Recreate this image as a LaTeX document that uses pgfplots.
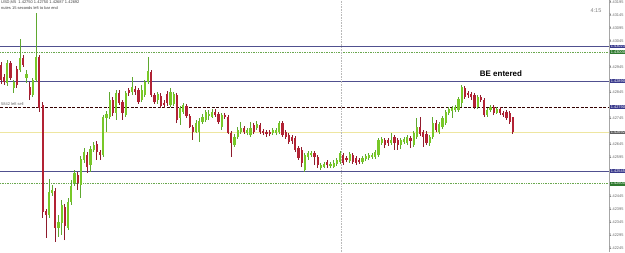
\documentclass[border=0pt]{standalone}
\usepackage{fontspec}
\setmainfont{Liberation Sans}
\usepackage{pgfplots}
\pgfplotsset{compat=1.18}
\usepackage{pgfplotstable}
\definecolor{gbody}{HTML}{78C828}
\definecolor{gwick}{HTML}{5FA830}
\definecolor{rbody}{HTML}{B22234}
\definecolor{rwick}{HTML}{8E1B2C}
\definecolor{lvl}{HTML}{50508F}
\definecolor{lgreen}{HTML}{6AA84F}
\definecolor{bidy}{HTML}{EEE6A0}
\definecolor{boxp}{HTML}{3A3A8C}
\definecolor{boxg}{HTML}{2F7A2F}

% x = bar position (px), o h l c = price in pips above 1.42000
\pgfplotstableread{
x o h l c
6.2 88.2 97.1 87.1 95.9
12.6 86.3 89.4 84.4 88.6
19 93.2 105.2 92.5 97.8
25.4 90.2 93.2 88.2 91.7
31.8 83.6 90.2 82.8 89.4
35 89.4 115.2 88.6 98.2
48.2 37.5 51.3 36.3 46.3
51.2 45.9 49.0 44.8 47.1
57.4 32.5 37.5 29.0 34.8
60.6 34.4 43.2 29.8 41.3
67 32.5 44.0 31.7 42.5
70.2 42.5 50.9 41.3 48.6
73.4 49.8 54.8 48.6 53.6
79.8 49.0 60.2 44.0 59.0
83 58.6 63.2 57.5 61.7
89.4 56.7 64.0 54.0 62.8
92.6 62.5 65.5 61.7 64.4
102.2 60.5 75.9 59.8 75.2
105.4 74.8 77.5 69.4 76.3
108.6 75.2 84.8 74.4 81.7
115 76.7 85.5 74.0 84.4
124.6 75.9 85.2 75.2 84.4
131 84.8 90.5 83.6 86.7
140.6 81.7 87.5 80.9 85.5
143.8 83.6 89.4 82.8 88.6
147 88.6 98.2 87.8 92.8
156.6 81.7 84.8 80.2 84.0
169.4 79.8 86.3 79.0 84.8
172.6 80.2 84.8 79.4 84.0
179 74.8 79.4 72.1 78.6
182.2 77.1 80.5 76.3 79.8
195 69.4 74.0 69.0 72.8
198.2 69.4 74.8 65.5 73.6
201.4 73.2 76.3 72.5 75.2
204.6 74.0 77.8 73.2 77.1
207.8 75.5 77.8 74.0 76.3
211 75.2 78.2 74.8 77.1
220.6 71.3 76.7 70.2 75.9
233.4 64.4 68.6 63.6 67.5
236.6 67.5 71.3 66.7 70.2
239.8 69.4 73.2 68.6 70.9
246.2 69.0 70.9 68.2 70.2
249.4 68.2 73.2 67.5 70.9
255.8 70.9 73.6 70.2 72.5
271.8 69.0 70.9 68.2 70.2
275 69.0 70.9 68.2 70.2
278.2 69.4 73.6 68.6 72.8
303.8 54.8 61.3 54.0 60.5
307 59.8 62.1 58.6 61.3
310.2 60.5 62.1 59.8 61.3
319.8 55.5 57.5 54.8 56.7
323 55.9 57.8 55.5 57.1
329.4 56.3 57.8 55.5 57.1
332.6 55.9 58.6 55.5 57.5
335.8 57.1 59.4 56.3 58.6
339 57.8 62.1 57.1 61.3
348.6 58.2 61.7 57.5 60.9
361.4 57.8 60.2 57.1 59.4
364.6 59.0 60.9 58.2 60.2
367.8 59.4 61.3 58.6 60.5
371 59.8 61.3 59.0 60.5
374.2 59.8 62.5 59.0 61.7
377.4 60.5 67.1 59.8 66.3
380.6 65.2 67.5 64.4 66.7
390.2 65.2 69.0 64.4 66.3
399.8 64.4 67.1 62.8 66.3
403 65.5 67.5 64.8 66.7
406.2 65.2 68.2 64.4 67.5
412.6 64.4 69.8 63.6 69.0
415.8 67.5 74.8 66.7 71.3
428.6 65.2 68.2 64.0 67.5
431.8 67.5 75.2 66.7 72.8
438.2 69.4 73.2 68.6 72.5
441.4 71.3 75.5 70.5 74.8
444.6 72.8 77.8 72.1 77.1
447.8 76.7 79.0 75.9 78.2
451 77.5 79.4 74.8 78.6
454.2 77.8 79.8 77.1 79.0
457.4 77.8 82.8 77.1 82.1
460.6 80.5 87.5 79.0 86.7
476.6 79.0 83.6 78.2 82.8
486.2 75.9 78.6 75.2 77.8
489.4 77.8 79.8 77.1 79.0
495.8 76.7 79.0 76.3 78.2
}\gtab

\pgfplotstableread{
x o h l c
0 95.2 96.3 87.8 89.4
3.1 90.5 91.7 87.5 88.6
9.4 95.9 96.7 89.4 90.2
15.8 93.6 94.8 86.3 87.5
22.2 97.8 99.0 94.4 95.2
28.6 86.7 88.6 81.7 83.6
38.3 98.2 99.0 77.1 78.6
41.6 79.8 80.9 36.3 38.6
44.9 39.0 39.8 28.6 37.5
54.3 46.7 47.8 27.1 32.5
63.8 40.5 41.7 27.8 33.2
76.6 52.8 54.0 47.1 49.8
86.2 60.5 61.7 53.6 55.9
95.8 64.8 65.9 58.6 61.7
99 61.7 62.5 58.6 60.5
111.8 81.7 82.8 75.5 76.7
118.2 84.4 85.5 79.8 80.5
121.4 80.9 81.7 74.0 76.7
127.8 85.5 86.3 83.2 84.4
134.2 85.9 87.1 83.6 84.8
137.4 85.5 86.3 80.2 80.9
150.2 92.5 93.2 82.8 83.6
153.4 83.6 84.4 80.2 80.9
159.8 83.2 84.4 78.6 79.4
163 80.5 81.7 78.6 79.8
166.2 84.0 85.2 79.4 80.5
175.8 83.6 84.4 72.8 74.0
185.4 79.4 80.2 74.8 75.5
188.6 75.5 76.3 70.9 71.3
191.8 71.3 72.1 66.3 69.4
214.2 77.1 78.2 75.2 75.9
217.4 76.3 77.1 72.5 73.2
223.8 75.9 76.7 74.4 75.2
227 75.2 75.9 68.6 69.0
230.2 69.0 69.8 59.8 65.2
243 70.9 71.7 68.6 69.4
252.6 72.1 72.8 68.6 69.4
259 72.1 72.8 68.6 69.4
262.2 69.8 70.5 68.2 69.0
265.4 69.4 70.2 67.5 68.6
268.6 69.4 70.2 67.8 68.6
281.4 72.8 73.6 67.5 68.2
284.6 69.4 70.2 66.7 67.5
287.8 68.2 69.0 64.8 65.5
291 67.5 68.2 64.8 65.9
294.2 67.1 67.8 61.7 62.5
297.4 63.2 64.0 58.6 59.4
300.6 62.5 63.6 55.9 57.5
313.4 61.3 62.1 56.7 59.8
316.6 59.8 60.5 55.5 56.7
326.2 57.8 58.6 55.5 56.7
342.2 60.5 61.3 56.7 57.5
345.4 59.4 60.2 57.8 58.6
351.8 60.5 61.3 57.1 57.8
355 59.4 60.2 56.7 57.5
358.2 58.6 59.4 57.1 57.8
383.8 66.3 67.1 63.2 64.4
387 66.3 67.1 64.0 65.2
393.4 67.5 68.2 62.5 65.2
396.6 66.3 67.1 62.5 64.4
409.4 67.1 67.8 63.2 65.9
419 71.3 75.2 67.8 68.6
422.2 69.4 70.2 63.6 67.5
425.4 68.6 69.8 64.4 65.2
435 72.8 74.0 69.4 70.2
463.8 86.3 87.1 82.1 82.8
467 84.4 85.2 82.5 83.6
470.2 84.0 84.8 81.7 82.8
473.4 83.6 84.4 78.2 79.0
479.8 82.8 83.6 80.9 81.7
483 81.7 82.5 75.2 75.9
492.6 79.0 79.8 75.9 76.7
499 78.2 79.0 75.9 76.7
502.2 76.7 77.5 75.2 75.9
505.4 77.1 77.8 74.0 74.8
508.6 76.7 77.5 72.5 73.2
511.8 75.0 75.0 68.7 69.2
}\rtab

\pgfplotsset{candle/.style={draw=none, mark=none, forget plot,
  error bars/.cd, y dir=plus, y explicit, error mark=none,
  error bar style={#1}}}

\begin{document}
\begin{tikzpicture}[x=1bp,y=1bp]
\path[use as bounding box] (0,0) rectangle (625,252);
\clip (0,0) rectangle (625,252);
\fill[white] (0,0) rectangle (625,252);
\begin{axis}[
  at={(0,0)}, anchor=south west, scale only axis,
  width=609bp, height=252bp,
  xmin=-1, xmax=608, ymin=23.2, ymax=120.15,
  clip mode=individual,
  axis x line=none, axis y line*=right,
  y axis line style={draw=gray!70, line width=0.6bp},
  ytick={24.5,29.5,...,119.5},
  yticklabels={1.42245,1.42295,1.42345,1.42395,1.42445,,,1.42595,1.42645,,1.42745,,1.42845,,1.42945,,1.43045,1.43095,1.43145,1.43195},
  tick align=outside, major tick length=1.5bp,
  ytick style={draw=gray!70, line width=0.5bp},
  yticklabel style={font=\fontsize{3.9}{4.5}\selectfont, text=gray!80!black, anchor=west, xshift=-1.6bp, inner sep=0.3bp},
]
% horizontal levels
\addplot[lvl, line width=0.8bp] coordinates {(-1,102.3) (608,102.3)};
\addplot[lgreen, line width=0.7bp, densely dotted] coordinates {(-1,100.0) (608,100.0)};
\addplot[lvl, line width=0.8bp] coordinates {(-1,89.0) (608,89.0)};
\addplot[black!80!red, line width=0.9bp, dash pattern=on 3bp off 1.5bp] coordinates {(-1,79.0) (608,79.0)};
\addplot[bidy, line width=0.8bp] coordinates {(-1,69.2) (608,69.2)};
\addplot[lvl, line width=0.8bp] coordinates {(-1,54.4) (608,54.4)};
\addplot[lgreen, line width=0.7bp, densely dotted] coordinates {(-1,49.5) (608,49.5)};
\draw[gray!55, densely dotted, line width=0.6bp] (axis cs:340,23.2) -- (axis cs:340,120.15);
% wicks
\addplot[candle={draw=gwick, line width=0.8bp}]
  table[x=x, y=l, y error plus expr=\thisrow{h}-\thisrow{l}] {\gtab};
\addplot[candle={draw=rwick, line width=0.8bp}]
  table[x=x, y=l, y error plus expr=\thisrow{h}-\thisrow{l}] {\rtab};
% bodies
\addplot[candle={draw=gbody, line width=2.2bp, line cap=butt}]
  table[x=x, y=o, y error plus expr=\thisrow{c}-\thisrow{o}] {\gtab};
\addplot[candle={draw=rbody, line width=2.2bp, line cap=butt}]
  table[x=x, y=c, y error plus expr=\thisrow{o}-\thisrow{c}] {\rtab};
% price boxes on the scale
\tikzset{pbox/.style={anchor=west, inner sep=0.5bp, text=white, font=\fontsize{3.9}{4.5}\selectfont}}
\node[pbox, fill=boxp] at (axis cs:609.2,102.3) {1.43023};
\node[pbox, fill=boxg] at (axis cs:609.2,100.0) {1.43000};
\node[pbox, fill=boxp] at (axis cs:609.2,89.0) {1.42890};
\node[pbox, fill=boxp] at (axis cs:609.2,79.0) {1.42790};
\node[pbox, fill=gray!75!black] at (axis cs:609.2,69.2) {1.42692};
\node[pbox, fill=boxp] at (axis cs:609.2,54.4) {1.42545};
\node[pbox, fill=boxg] at (axis cs:609.2,49.5) {1.42500};
\end{axis}
\node[anchor=north west, inner sep=0, font=\fontsize{4}{4.5}\selectfont, text=black!75] at (1,251) {USD,M5\ \ 1.42750 1.42750 1.42687 1.42692};
\node[anchor=north west, inner sep=0, font=\fontsize{4}{4.5}\selectfont, text=black!75] at (1,246) {nutes 15 seconds left to bar end};
\node[anchor=west, inner sep=0, font=\fontsize{4}{4.5}\selectfont, text=black!60] at (1,148) {5842 left sell};
\node[inner sep=0, font=\fontsize{5.5}{6}\selectfont, text=gray] at (596,241) {4:15};
\node[inner sep=0, font=\bfseries\fontsize{8}{9}\selectfont] at (501,178) {BE entered};
\end{tikzpicture}
\end{document}
